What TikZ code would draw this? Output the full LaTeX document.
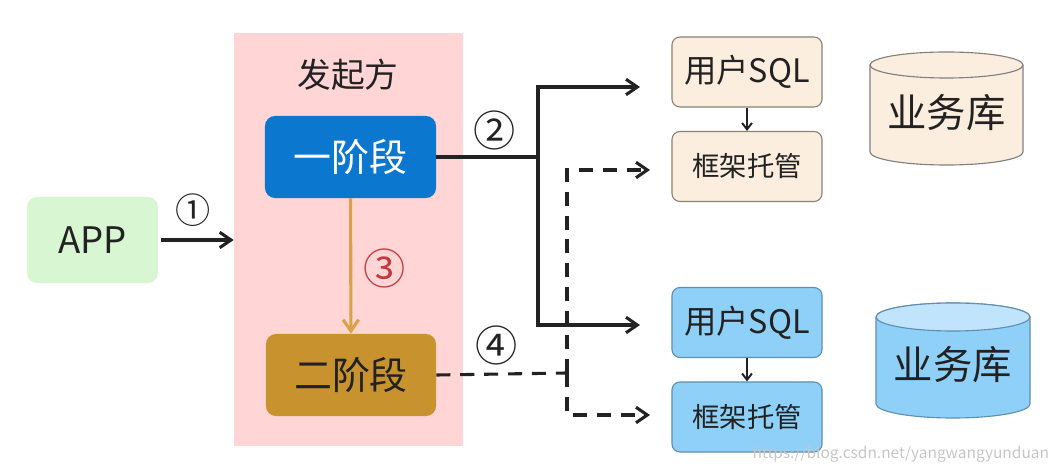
\documentclass[tikz,border=0pt]{standalone}
\usepackage{fontspec}
\setmainfont{Noto Sans CJK SC}
\usetikzlibrary{arrows.meta}
\definecolor{pinkbg}{HTML}{FFD5D6}
\definecolor{phaseone}{HTML}{0B77CF}
\definecolor{phasetwo}{HTML}{C8922F}
\definecolor{appgreen}{HTML}{D8F6D2}
\definecolor{beige}{HTML}{FCEEDF}
\definecolor{beigeline}{HTML}{8C8274}
\definecolor{skyblue}{HTML}{8FD0F8}
\definecolor{skytop}{HTML}{BFE4FC}
\definecolor{skyline}{HTML}{5F8FB3}
\definecolor{orangearr}{HTML}{D9A24A}
\definecolor{stepred}{HTML}{C4383B}
\definecolor{ink}{HTML}{222222}

\begin{document}
\begin{tikzpicture}[x=0.025cm, y=0.025cm,
    box/.style={rounded corners=0.25cm, inner sep=0pt, text=ink},
    smallbox/.style={rounded corners=0.2cm, inner sep=0pt, text=ink, line width=0.8pt,
      minimum width=3.75cm, minimum height=1.75cm},
    sqltext/.style={font=\fontsize{23pt}{26pt}\selectfont},
    hosttext/.style={font=\fontsize{19.5pt}{22pt}\selectfont},
    num/.style={text=ink, inner sep=0pt, font=\fontsize{30pt}{32pt}\selectfont},
    flow/.style={draw=ink, line width=2.2pt, -{Straight Barb[length=8pt,width=11pt]}},
    ret/.style={flow, dash pattern=on 10pt off 7pt},
    inner/.style={draw=ink, line width=1.4pt, -{Straight Barb[length=4.5pt,width=7pt]}}]
  \useasboundingbox (0,0) rectangle (1059,-471);

  \node[fill=pinkbg, minimum width=5.725cm, minimum height=10.325cm, inner sep=0pt] (faqi) at (348.5,-239.5) {};
  \node[text=ink, font=\fontsize{24pt}{27pt}\selectfont] (faqilabel) at (348,-75) {发起方};
  \node[box, fill=phaseone, text=white, minimum width=4.275cm, minimum height=2.05cm,
    font=\fontsize{27pt}{30pt}\selectfont] (p1) at (350.5,-157) {一阶段};
  \node[box, fill=phasetwo, minimum width=4.25cm, minimum height=2.05cm,
    font=\fontsize{27pt}{30pt}\selectfont] (p2) at (351,-375) {二阶段};
  \node[box, fill=appgreen, minimum width=3.275cm, minimum height=2.15cm,
    font=\fontsize{26pt}{29pt}\selectfont] (app) at (92.5,-240) {APP};

  \node[smallbox, sqltext, draw=beigeline, fill=beige] (sql1) at (747,-72) {用户SQL};
  \node[smallbox, hosttext, draw=beigeline, fill=beige] (host1) at (747,-166.5) {框架托管};
  \node[smallbox, sqltext, draw=skyline, fill=skyblue] (sql2) at (747,-322.5) {用户SQL};
  \node[smallbox, hosttext, draw=skyline, fill=skyblue] (host2) at (747,-417) {框架托管};

  \draw[draw=gray, line width=0.8pt, fill=beige] (870,-65) -- (870,-152) arc (180:360:76.5 and 13)
    -- (1023,-65) arc (0:180:76.5 and 13) -- cycle;
  \draw[draw=gray, line width=0.8pt] (870,-65) arc (180:360:76.5 and 13);
  \node[text=ink, font=\fontsize{28pt}{31pt}\selectfont] (db1) at (946.5,-113) {业务库};
  \draw[draw=skyline, line width=0.8pt, fill=skyblue] (876,-317) -- (876,-404) arc (180:360:77 and 14)
    -- (1030,-317) arc (0:180:77 and 14) -- cycle;
  \draw[draw=skyline, line width=0.8pt, fill=skytop] (953,-317) ellipse [x radius=77, y radius=14];
  \node[text=ink, font=\fontsize{28pt}{31pt}\selectfont] (db2) at (953,-365) {业务库};

  \coordinate (split) at (538,-157);
  \coordinate (to1) at (640,-87);
  \coordinate (to2) at (640,-325);
  \coordinate (join) at (567,-373);
  \coordinate (back1) at (650,-170);
  \coordinate (back2) at (650,-415);

  \draw[flow, shorten <=2pt] (app) -- (faqi.west |- app);
  \node[num, font=\fontsize{25pt}{28pt}\selectfont] (n1) at (193,-210) {①};

  \draw[draw=orangearr, line width=2.2pt, -{Straight Barb[length=8pt,width=11pt]}] (p1) -- (p2);
  \node[num, text=stepred] (n3) at (385,-268) {③};

  \draw[draw=ink, line width=2.2pt] (p1.east) -- (split);
  \draw[flow] (split) |- (to1);
  \draw[flow] (split) |- (to2);
  \node[num] (n2) at (495,-130) {②};

  \draw[draw=ink, line width=2.2pt, dash pattern=on 10pt off 7pt] (p2.east) -- (join);
  \draw[ret] (join) |- (back1);
  \draw[ret] (join) |- (back2);
  \node[num] (n4) at (497,-345) {④};

  \draw[inner] (sql1) -- (host1);
  \draw[inner] (sql2) -- (host2);

  \node[anchor=east, text=gray!45, font=\fontsize{11pt}{13pt}\selectfont] (mark) at (1054,-454)
    {https://blog.csdn.net/yangwangyunduan};
\end{tikzpicture}
\end{document}
